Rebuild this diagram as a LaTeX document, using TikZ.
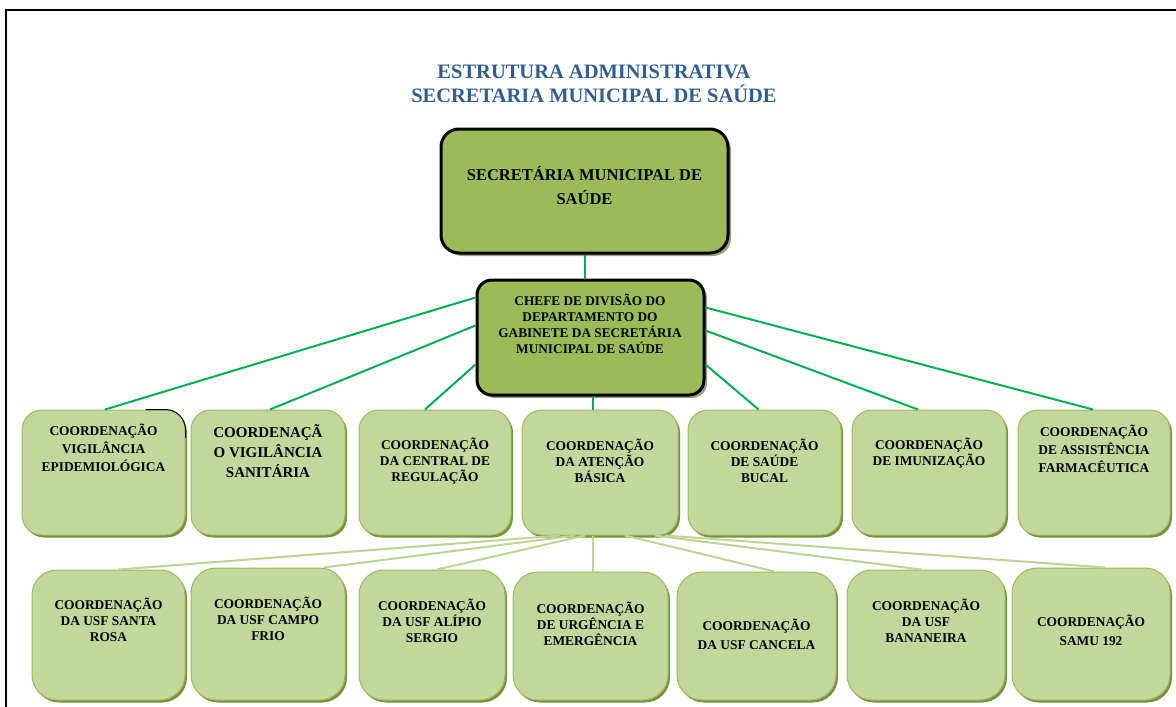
\documentclass[tikz,border=0pt]{standalone}
\usepackage{fontspec}
\setmainfont{Liberation Serif}
\usetikzlibrary{shadows}
\definecolor{olivefill}{RGB}{155,187,89}
\definecolor{palefill}{RGB}{195,214,155}
\definecolor{paleedge}{RGB}{155,187,89}
\definecolor{palelink}{RGB}{190,211,148}
\definecolor{linkgreen}{RGB}{0,176,80}
\definecolor{titleblue}{RGB}{46,94,146}
\definecolor{shadeolive}{RGB}{118,146,60}
\definecolor{shadegray}{RGB}{160,160,130}
\tikzset{
    head/.style={draw=black, line width=3pt, fill=olivefill, rounded corners=18pt,
        drop shadow={shadow xshift=3pt, shadow yshift=-3pt, fill=shadegray, opacity=1}},
    unit/.style={draw=paleedge, line width=1pt, fill=palefill, rounded corners=20pt,
        minimum height=125pt,
        drop shadow={shadow xshift=2pt, shadow yshift=-2.5pt, fill=shadeolive, opacity=1}},
    txt/.style={align=center, inner sep=0pt, font=\bfseries\fontsize{13.4}{16}\selectfont},
    link/.style={linkgreen, line width=2pt},
    sublink/.style={palelink, line width=2pt}
}

\begin{document}
\begin{tikzpicture}[x=1pt, y=-1pt]
    \useasboundingbox (0,0) rectangle (1176,707);
    \draw[line width=1.5pt] (6,707) -- (6,10) -- (1176,10);

    \node[txt, text=titleblue, font=\bfseries\fontsize{20.5}{24}\selectfont] (title) at (594,84)
        {ESTRUTURA ADMINISTRATIVA\\SECRETARIA MUNICIPAL DE SAÚDE};

    \node[head, minimum width=287pt, minimum height=124pt] (A) at (584.5,191) {};
    \node[txt, font=\bfseries\fontsize{16.5}{24}\selectfont] (tA) at (584.5,185) {SECRETÁRIA MUNICIPAL DE\\SAÚDE};

    \node[head, rounded corners=15pt, minimum width=227pt, minimum height=115pt] (B) at (590.5,337.5) {};
    \node[txt, font=\bfseries\fontsize{13.3}{16}\selectfont] (tB) at (590,324)
        {CHEFE DE DIVISÃO DO\\DEPARTAMENTO DO\\GABINETE DA SECRETÁRIA\\MUNICIPAL DE SAÚDE};

    \node[unit, minimum width=163pt] (c1) at (103.5,472.5) {};
    \node[unit, minimum width=154pt] (c2) at (268,472.5) {};
    \node[unit, minimum width=152pt] (c3) at (435,472.5) {};
    \node[unit, minimum width=156pt] (c4) at (600,472.5) {};
    \node[unit, minimum width=153pt] (c5) at (764.5,472.5) {};
    \node[unit, minimum width=154pt] (c6) at (929,472.5) {};
    \node[unit, minimum width=152pt] (c7) at (1094,472.5) {};
    \draw[line width=1pt, rounded corners=20pt] ([xshift=-40pt]c1.north east) -- (c1.north east) -- ([yshift=-28pt]c1.north east);

    \node[txt, font=\bfseries\fontsize{13.4}{18}\selectfont] (t1) at (103.5,448) {COORDENAÇÃO\\VIGILÂNCIA\\EPIDEMIOLÓGICA};
    \node[txt, font=\bfseries\fontsize{15}{20}\selectfont] (t2) at (268,451) {COORDENAÇÃ\\O VIGILÂNCIA\\SANITÁRIA};
    \node[txt] (t3) at (435,461) {COORDENAÇÃO\\DA CENTRAL DE\\REGULAÇÃO};
    \node[txt] (t4) at (600,461) {COORDENAÇÃO\\DA ATENÇÃO\\BÁSICA};
    \node[txt] (t5) at (764.5,461) {COORDENAÇÃO\\DE SAÚDE\\BUCAL};
    \node[txt] (t6) at (929,453) {COORDENAÇÃO\\DE IMUNIZAÇÃO};
    \node[txt, font=\bfseries\fontsize{13.4}{18}\selectfont] (t7) at (1094,449) {COORDENAÇÃO\\DE ASSISTÊNCIA\\FARMACÊUTICA};

    \node[unit, rounded corners=25pt, minimum width=153pt, minimum height=130pt] (r1) at (108.5,635) {};
    \node[unit, rounded corners=25pt, minimum width=154pt, minimum height=132pt] (r2) at (268,634) {};
    \node[unit, rounded corners=25pt, minimum width=146pt, minimum height=130pt] (r3) at (432,635) {};
    \node[unit, rounded corners=25pt, minimum width=155pt, minimum height=128pt] (r4) at (590.5,636) {};
    \node[unit, rounded corners=25pt, minimum width=159pt, minimum height=128pt] (r5) at (756.5,636) {};
    \node[unit, rounded corners=25pt, minimum width=158pt, minimum height=130pt] (r6) at (926,635) {};
    \node[unit, rounded corners=25pt, minimum width=158pt, minimum height=132pt] (r7) at (1091,634) {};

    \node[txt] (s1) at (108.5,620) {COORDENAÇÃO\\DA USF SANTA\\ROSA};
    \node[txt] (s2) at (268,619) {COORDENAÇÃO\\DA USF CAMPO\\FRIO};
    \node[txt] (s3) at (432,621) {COORDENAÇÃO\\DA USF ALÍPIO\\SERGIO};
    \node[txt] (s4) at (590.5,624) {COORDENAÇÃO\\DE URGÊNCIA E\\EMERGÊNCIA};
    \node[txt, font=\bfseries\fontsize{13.4}{19}\selectfont] (s5) at (756.5,634) {COORDENAÇÃO\\DA USF CANCELA};
    \node[txt] (s6) at (926,621) {COORDENAÇÃO\\DA USF\\BANANEIRA};
    \node[txt, font=\bfseries\fontsize{13.4}{19}\selectfont] (s7) at (1091,630) {COORDENAÇÃO\\SAMU 192};

    \draw[link] (A.south) -- (A.south |- B.north);
    \draw[link] ([yshift=40pt]B.west) -- ([xshift=1.5pt]c1.north);
    \draw[link] ([yshift=12pt]B.west) -- ([xshift=2pt]c2.north);
    \draw[link] ([yshift=-27pt]B.west) -- ([xshift=-10pt]c3.north);
    \draw[link] ([xshift=-7pt]c4.north |- B.south) -- ([xshift=-7pt]c4.north);
    \draw[link] ([yshift=-27pt]B.east) -- ([xshift=-6pt]c5.north);
    \draw[link] ([yshift=7pt]B.east) -- ([xshift=-11pt]c6.north);
    \draw[link] ([yshift=30pt]B.east) -- ([xshift=-1pt]c7.north);

    \draw[sublink] ([xshift=-40pt]c4.south) -- ([xshift=10pt]r1.north);
    \draw[sublink] ([xshift=-25pt]c4.south) -- ([xshift=56pt]r2.north);
    \draw[sublink] ([xshift=-15pt]c4.south) -- ([xshift=5pt]r3.north);
    \draw[sublink] ([xshift=-7pt]c4.south) -- ([xshift=-7pt]c4.south |- r4.north);
    \draw[sublink] ([xshift=25pt]c4.south) -- ([xshift=18pt]r5.north);
    \draw[sublink] ([xshift=55pt]c4.south) -- ([xshift=-5pt]r6.north);
    \draw[sublink] ([xshift=65pt]c4.south) -- ([xshift=14pt]r7.north);
\end{tikzpicture}
\end{document}
